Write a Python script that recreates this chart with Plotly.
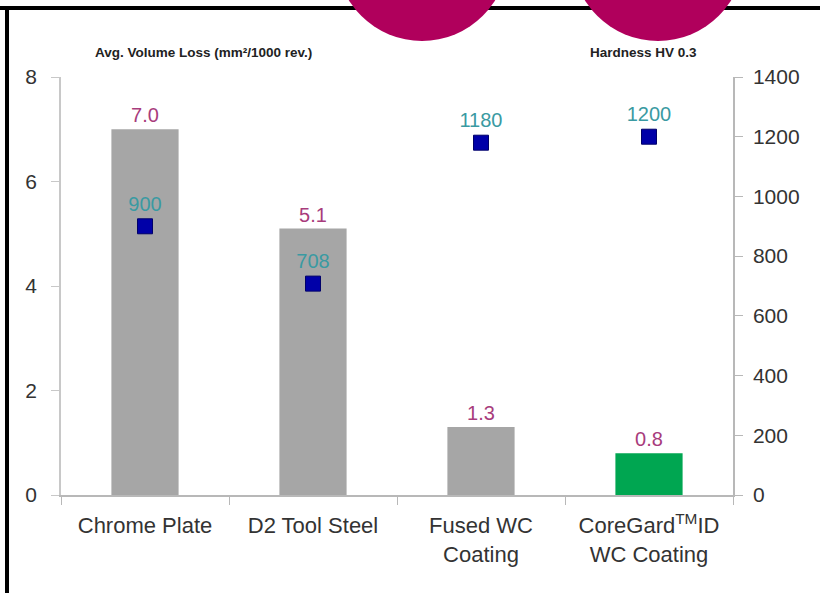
import plotly.graph_objects as go

categories = ["Chrome Plate", "D2 Tool Steel", "Fused WC<br>Coating", "CoreGard<sup>TM</sup>ID<br>WC Coating"]
volume_loss = [7.0, 5.1, 1.3, 0.8]
volume_labels = ["7.0", "5.1", "1.3", "0.8"]
hardness = [900, 708, 1180, 1200]
hardness_labels = ["900", "708", "1180", "1200"]
bar_colors = ["#a6a6a6", "#a6a6a6", "#a6a6a6", "#00a651"]

FONT = "Liberation Sans Narrow, Arial Narrow, Liberation Sans, Arial, sans-serif"

W, H = 820, 593
ML, MR, MT, MB = 61, 87, 77, 98

fig = go.Figure()
fig.add_trace(go.Bar(
    x=categories, y=volume_loss, width=0.4,
    marker=dict(color=bar_colors, line=dict(width=0)),
    text=volume_labels, textposition="outside",
    textfont=dict(color="#a83c7c", size=20, family=FONT),
    cliponaxis=False, showlegend=False, yaxis="y",
))
fig.add_trace(go.Scatter(
    x=categories, y=hardness, mode="markers+text",
    marker=dict(symbol="square", size=15, color="#0000a8", line=dict(color="#00006a", width=1)),
    text=hardness_labels, textposition="top center",
    textfont=dict(color="#3a9aa2", size=20, family=FONT),
    cliponaxis=False, showlegend=False, yaxis="y2",
))

pw, ph = W - ML - MR, H - MT - MB


def px(xp):
    return (xp - ML) / pw


def py(yp):
    return (H - yp - MB) / ph


fig.update_layout(
    width=W, height=H,
    margin=dict(l=ML, r=MR, t=MT, b=MB),
    paper_bgcolor="white", plot_bgcolor="white",
    font=dict(family=FONT, color="#333333", size=21),
    xaxis=dict(
        showgrid=False, showline=True, linecolor="#b8b8b8", linewidth=1.5,
        ticks="outside", tickson="boundaries", ticklen=8, tickcolor="#b8b8b8",
        tickfont=dict(size=22, color="#333333", family=FONT), ticklabelstandoff=10,
    ),
    yaxis=dict(
        range=[0, 8], dtick=2, showgrid=False, showline=True, linecolor="#c8c8c8",
        linewidth=1.5, ticks="outside", ticklen=8, tickcolor="#c8c8c8",
        tickfont=dict(size=21, color="#333333", family=FONT), zeroline=False,
        ticklabelstandoff=10,
    ),
    yaxis2=dict(
        range=[0, 1400], dtick=200, overlaying="y", side="right", showgrid=False,
        showline=True, linecolor="#b8b8b8", linewidth=1.5, ticks="outside", ticklen=8,
        tickcolor="#b8b8b8", tickfont=dict(size=21, color="#333333", family=FONT),
        zeroline=False, ticklabelstandoff=6,
    ),
    annotations=[
        dict(text="<b>Avg. Volume Loss (mm²/1000 rev.)</b>", x=px(203), y=py(52),
             xref="paper", yref="paper", showarrow=False, xanchor="center", yanchor="middle",
             font=dict(size=13.5, color="#222222", family=FONT)),
        dict(text="<b>Hardness HV 0.3</b>", x=px(643), y=py(52),
             xref="paper", yref="paper", showarrow=False, xanchor="center", yanchor="middle",
             font=dict(size=13.5, color="#222222", family=FONT)),
    ],
    shapes=[
        dict(type="line", xref="paper", yref="paper", x0=px(0), x1=px(820), y0=py(8), y1=py(8),
             line=dict(color="black", width=4)),
        dict(type="line", xref="paper", yref="paper", x0=px(7), x1=px(7), y0=py(8), y1=py(593),
             line=dict(color="black", width=4)),
        dict(type="circle", xref="paper", yref="paper", x0=px(422 - 86), x1=px(422 + 86),
             y0=py(-45 + 86), y1=py(-45 - 86), fillcolor="#b0005c", line=dict(width=0)),
        dict(type="circle", xref="paper", yref="paper", x0=px(658 - 86), x1=px(658 + 86),
             y0=py(-45 + 86), y1=py(-45 - 86), fillcolor="#b0005c", line=dict(width=0)),
    ],
)

fig.write_html("out.html", config={"displayModeBar": False},
               post_script="document.body.style.margin='0px';document.body.style.overflow='hidden';")
